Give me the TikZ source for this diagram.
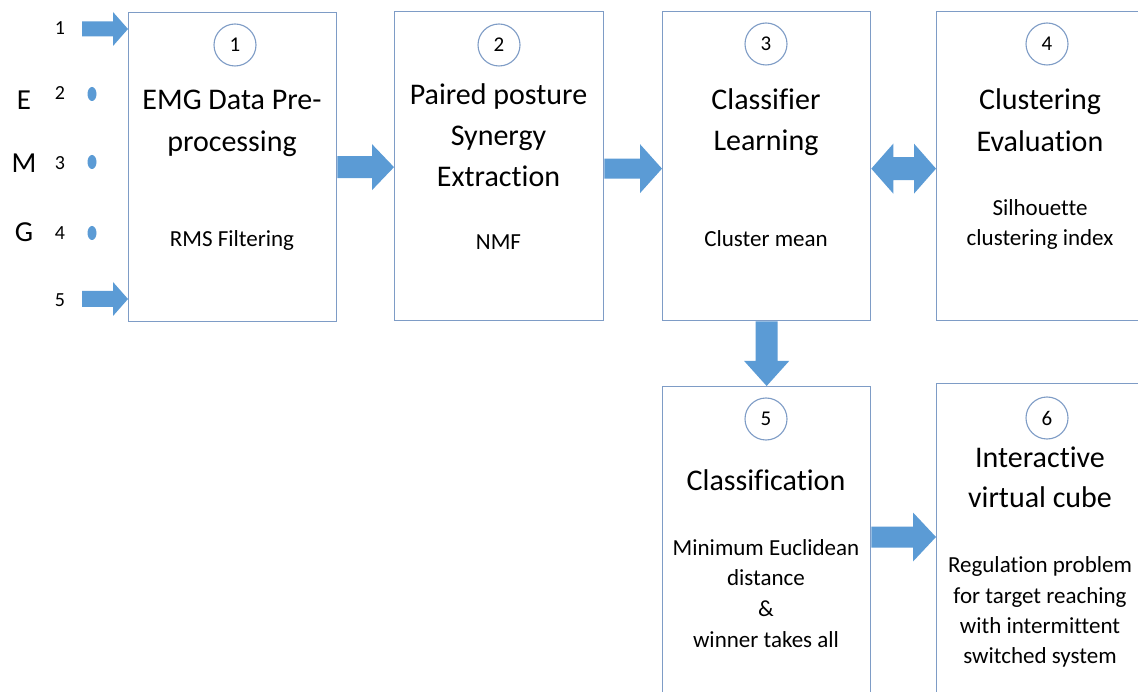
\documentclass[tikz,border=0pt]{standalone}
\usepackage{fontspec}
\setmainfont{Carlito}[Ligatures=NoCommon]
\usetikzlibrary{calc,shapes.geometric}

\definecolor{arrowfill}{HTML}{5B9BD5}
\definecolor{boxline}{HTML}{7E9CC6}

\tikzset{
  box/.style={draw=boxline, line width=1.3pt, fill=white, inner sep=0pt,
    anchor=north west, minimum width=208pt},
  stepnum/.style={circle, draw=boxline, line width=1.1pt, minimum size=42pt,
    inner sep=0pt, font=\fontsize{21}{24}\selectfont},
  title/.style={anchor=base, inner sep=0pt, font=\fontsize{30}{36}\selectfont},
  sub/.style={anchor=base, inner sep=0pt, font=\fontsize{23}{28}\selectfont},
  chan/.style={anchor=base, inner sep=0pt, font=\fontsize{20}{24}\selectfont},
  emg/.style={anchor=base, inner sep=0pt, font=\fontsize{29}{34}\selectfont},
  sensor/.style={ellipse, fill=arrowfill, minimum width=9pt, minimum height=14pt, inner sep=0pt},
}

% block arrow pointing right: start, tip, shaft half-width, head half-width, head length
\newcommand\rblock[5]{%
  \fill[arrowfill] let \p1=(#1), \p2=(#2) in
    (\x1,\y1-#3) -- (\x2-#5,\y1-#3) -- (\x2-#5,\y1-#4) -- (\x2,\y1)
    -- (\x2-#5,\y1+#4) -- (\x2-#5,\y1+#3) -- (\x1,\y1+#3) -- cycle;}
% block arrow with heads at both ends
\newcommand\dblock[5]{%
  \fill[arrowfill] let \p1=(#1), \p2=(#2) in
    (\x1,\y1) -- (\x1+#5,\y1-#4) -- (\x1+#5,\y1-#3) -- (\x2-#5,\y1-#3)
    -- (\x2-#5,\y1-#4) -- (\x2,\y1) -- (\x2-#5,\y1+#4) -- (\x2-#5,\y1+#3)
    -- (\x1+#5,\y1+#3) -- (\x1+#5,\y1+#4) -- cycle;}
% block arrow pointing down
\newcommand\ddblock[5]{%
  \fill[arrowfill] let \p1=(#1), \p2=(#2) in
    (\x1-#3,\y1) -- (\x1-#3,\y2+#5) -- (\x1-#4,\y2+#5) -- (\x1,\y2)
    -- (\x1+#4,\y2+#5) -- (\x1+#3,\y2+#5) -- (\x1+#3,\y1) -- cycle;}

\begin{document}
\begin{tikzpicture}[x=1pt, y=-1pt]
\clip (0,0) rectangle (1138,692);
\fill[white] (0,0) rectangle (1138,692);

% boxes
\node[box, minimum height=309pt] (b1) at (128,12) {};
\node[box, minimum height=309pt, minimum width=209pt] (b2) at (394,11) {};
\node[box, minimum height=309pt] (b3) at (662,11) {};
\node[box, minimum height=309pt] (b4) at (936,11) {};
\node[box, minimum height=330pt] (b5) at (662,386) {};
\node[box, minimum height=330pt] (b6) at (936,383) {};

% step numbers
\node[stepnum] (c1) at (235,45) {1};
\node[stepnum] (c2) at (499,45) {2};
\node[stepnum] (c3) at (766,44) {3};
\node[stepnum] (c4) at (1047,44) {4};
\node[stepnum] (c5) at (766,419) {5};
\node[stepnum] (c6) at (1047,418) {6};

% box 1
\node[title] (t1a) at (232,110) {EMG Data Pre-};
\node[title] (t1b) at (232,152) {processing};
\node[sub] (s1a) at (232,247) {RMS Filtering};
% box 2
\node[title] (t2a) at (498.5,105) {Paired posture};
\node[title] (t2b) at (498.5,146) {Synergy};
\node[title] (t2c) at (498.5,187) {Extraction};
\node[sub] (s2a) at (498.5,250) {NMF};
% box 3
\node[title] (t3a) at (766,110) {Classifier};
\node[title] (t3b) at (766,151) {Learning};
\node[sub] (s3a) at (766,247) {Cluster mean};
% box 4
\node[title] (t4a) at (1040,110) {Clustering};
\node[title] (t4b) at (1040,152) {Evaluation};
\node[sub] (s4a) at (1040,216) {Silhouette};
\node[sub] (s4b) at (1040,246) {clustering index};
% box 5
\node[title] (t5a) at (766,490) {Classification};
\node[sub] (s5a) at (766,555) {Minimum Euclidean};
\node[sub] (s5b) at (766,585) {distance};
\node[sub] (s5c) at (766,616) {\&};
\node[sub] (s5d) at (766,647) {winner takes all};
% box 6
\node[title] (t6a) at (1040,467) {Interactive};
\node[title] (t6b) at (1040,507) {virtual cube};
\node[sub] (s6a) at (1040,572) {Regulation problem};
\node[sub] (s6b) at (1040,603) {for target reaching};
\node[sub] (s6c) at (1040,633) {with intermittent};
\node[sub] (s6d) at (1040,663) {switched system};

% EMG channels
\node[emg] (le) at (24,110) {E};
\node[emg] (lm) at (24,173) {M};
\node[emg] (lg) at (24,242) {G};
\node[chan] (n1) at (60,35) {1};
\node[chan] (n2) at (60,100) {2};
\node[chan] (n3) at (60,170) {3};
\node[chan] (n4) at (60,240) {4};
\node[chan] (n5) at (60,307) {5};
\node[sensor] (d2) at (92,94) {};
\node[sensor] (d3) at (92,162) {};
\node[sensor] (d4) at (92,233) {};

% connectors
\coordinate (in1) at (82,29);
\coordinate (in5) at (82,299);
\coordinate (tip1) at (b1.west |- in1);
\coordinate (tip5) at (b1.west |- in5);
\rblock{in1}{tip1}{7.5pt}{17pt}{15pt}
\rblock{in5}{tip5}{8pt}{17pt}{15pt}
\rblock{b1.east}{b2.west}{11pt}{23pt}{22pt}
\coordinate (a23) at ([yshift=-2.5pt]b2.east);
\rblock{a23}{b3.west |- a23}{10pt}{24.5pt}{22pt}
\coordinate (a34) at ([yshift=-2.5pt]b3.east);
\dblock{a34}{b4.west |- a34}{11.5pt}{25pt}{22pt}
\ddblock{b3.south}{b5.north}{11pt}{22.5pt}{25pt}
\coordinate (a56) at (b5.east |- 0,537);
\rblock{a56}{b6.west |- a56}{10.5pt}{24.5pt}{23pt}
\end{tikzpicture}
\end{document}
